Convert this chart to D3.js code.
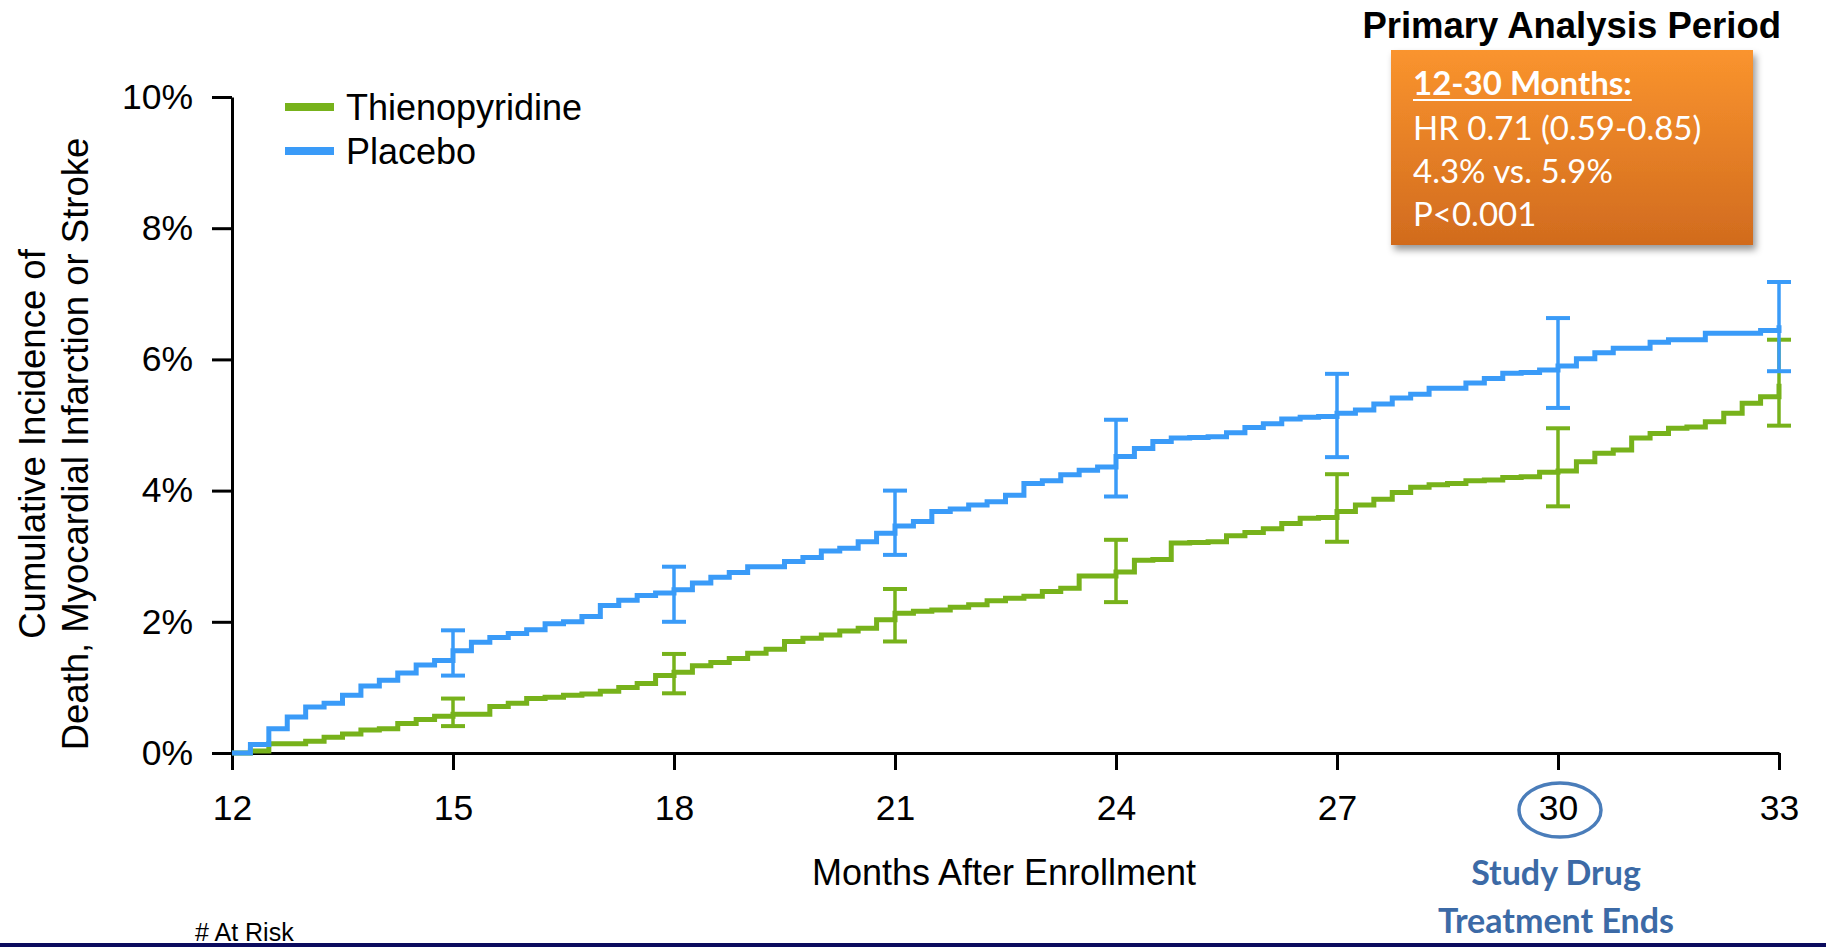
<!DOCTYPE html>
<html>
<head>
<meta charset="utf-8">
<script src="https://cdn.jsdelivr.net/npm/d3@7"></script>
<style>
  html, body { margin: 0; padding: 0; background: #ffffff; }
  svg { display: block; }
  text { font-family: "Liberation Sans", Arial, sans-serif; }
</style>
</head>
<body>
<svg id="chart" width="1826" height="947"></svg>
<script>
// Kaplan-Meier style cumulative incidence, months 12-33 after enrollment
const months = [12, 12.25, 12.5, 12.75, 13, 13.25, 13.5, 13.75, 14, 14.25, 14.5, 14.75,
  15, 15.25, 15.5, 15.75, 16, 16.25, 16.5, 16.75, 17, 17.25, 17.5, 17.75,
  18, 18.25, 18.5, 18.75, 19, 19.25, 19.5, 19.75, 20, 20.25, 20.5, 20.75,
  21, 21.25, 21.5, 21.75, 22, 22.25, 22.5, 22.75, 23, 23.25, 23.5, 23.75,
  24, 24.25, 24.5, 24.75, 25, 25.25, 25.5, 25.75, 26, 26.25, 26.5, 26.75,
  27, 27.25, 27.5, 27.75, 28, 28.25, 28.5, 28.75, 29, 29.25, 29.5, 29.75,
  30, 30.25, 30.5, 30.75, 31, 31.25, 31.5, 31.75, 32, 32.25, 32.5, 32.75, 33];

const placebo = [0, 0.13, 0.37, 0.55, 0.70, 0.76, 0.88, 1.02, 1.11, 1.22, 1.34, 1.41,
  1.56, 1.69, 1.76, 1.82, 1.88, 1.97, 2.00, 2.08, 2.25, 2.33, 2.40, 2.44,
  2.49, 2.59, 2.68, 2.75, 2.84, 2.84, 2.92, 2.98, 3.08, 3.12, 3.22, 3.35,
  3.46, 3.53, 3.68, 3.72, 3.78, 3.83, 3.93, 4.11, 4.15, 4.24, 4.31, 4.36,
  4.52, 4.64, 4.75, 4.80, 4.81, 4.82, 4.88, 4.96, 5.02, 5.09, 5.12, 5.13,
  5.18, 5.23, 5.32, 5.41, 5.47, 5.56, 5.56, 5.64, 5.71, 5.79, 5.80, 5.84,
  5.90, 6.01, 6.10, 6.17, 6.17, 6.26, 6.30, 6.30, 6.40, 6.40, 6.40, 6.44, 6.52];

const thienopyridine = [0, 0.03, 0.14, 0.14, 0.18, 0.24, 0.29, 0.35, 0.37, 0.45, 0.51, 0.56,
  0.59, 0.59, 0.71, 0.76, 0.83, 0.85, 0.88, 0.90, 0.94, 1.00, 1.06, 1.18,
  1.23, 1.33, 1.38, 1.44, 1.52, 1.58, 1.70, 1.75, 1.80, 1.86, 1.90, 2.03,
  2.13, 2.16, 2.18, 2.22, 2.26, 2.32, 2.36, 2.39, 2.46, 2.51, 2.70, 2.70,
  2.76, 2.94, 2.95, 3.20, 3.21, 3.22, 3.31, 3.36, 3.42, 3.50, 3.58, 3.59,
  3.68, 3.78, 3.87, 3.97, 4.05, 4.09, 4.11, 4.15, 4.16, 4.20, 4.21, 4.28,
  4.30, 4.44, 4.57, 4.62, 4.80, 4.87, 4.95, 4.97, 5.05, 5.18, 5.33, 5.43, 5.63];

// 95% confidence intervals at the labelled months
const ciMonths = [15, 18, 21, 24, 27, 30, 33];
const placeboLow  = [1.18, 2.00, 3.02, 3.91, 4.51, 5.26, 5.82];
const placeboHigh = [1.87, 2.84, 4.00, 5.08, 5.78, 6.63, 7.18];
const thienoLow   = [0.41, 0.91, 1.70, 2.30, 3.22, 3.76, 4.99];
const thienoHigh  = [0.83, 1.51, 2.50, 3.25, 4.25, 4.95, 6.30];

const xTicks = [12, 15, 18, 21, 24, 27, 30, 33];
const yTicks = [0, 2, 4, 6, 8, 10];

const seriesNames = ["Thienopyridine", "Placebo"];
const seriesColors = ["#77b21b", "#3a9bf8"];

const summaryLines = ["HR 0.71 (0.59-0.85)", "4.3% vs. 5.9%", "P<0.001"];

const svg = d3.select("#chart");

const x = d3.scaleLinear().domain([12, 33]).range([232, 1779]);
const y = d3.scaleLinear().domain([0, 10]).range([753, 97]);

// defs: gradient + shadow for the summary box
const defs = svg.append("defs");
const grad = defs.append("linearGradient").attr("id", "boxGrad")
  .attr("x1", 0).attr("y1", 0).attr("x2", 0).attr("y2", 1);
grad.append("stop").attr("offset", "0%").attr("stop-color", "#fa942e");
grad.append("stop").attr("offset", "100%").attr("stop-color", "#d16b1e");
const shadow = defs.append("filter").attr("id", "boxShadow")
  .attr("x", "-10%").attr("y", "-10%").attr("width", "125%").attr("height", "130%");
shadow.append("feDropShadow").attr("dx", 3).attr("dy", 5)
  .attr("stdDeviation", 3.5).attr("flood-color", "#000").attr("flood-opacity", 0.4);

// Axes
const axisFont = 35.5;
const yAxis = svg.append("g").attr("transform", `translate(${x(12)},0)`)
  .call(d3.axisLeft(y).tickValues(yTicks).tickFormat(d => d + "%")
    .tickSize(20).tickSizeOuter(0).tickPadding(19));
const xAxis = svg.append("g").attr("transform", `translate(0,${y(0)})`)
  .call(d3.axisBottom(x).tickValues(xTicks).tickFormat(d3.format("d"))
    .tickSize(17).tickSizeOuter(0).tickPadding(25));
[yAxis, xAxis].forEach(g => {
  g.selectAll("path.domain").attr("stroke", "#000").attr("stroke-width", 3);
  g.selectAll(".tick line").attr("stroke", "#000").attr("stroke-width", 3);
  g.selectAll(".tick text").attr("fill", "#000")
    .style("font-family", '"Liberation Sans", Arial, sans-serif')
    .style("font-size", axisFont + "px");
});

// Axis titles
svg.append("text").attr("x", 1004).attr("y", 885)
  .attr("text-anchor", "middle").style("font-size", "36px").attr("fill", "#000")
  .text("Months After Enrollment");
const yTitle = ["Cumulative Incidence of", "Death, Myocardial Infarction or Stroke"];
svg.selectAll("text.ytitle").data(yTitle).enter().append("text")
  .attr("class", "ytitle")
  .attr("transform", (d, i) => `translate(${45 + i * 43},444) rotate(-90)`)
  .attr("text-anchor", "middle").style("font-size", "36.5px").attr("fill", "#000")
  .text(d => d);

// Survival-style step curves
const seriesData = [thienopyridine, placebo];
const line = d3.line().curve(d3.curveStepAfter)
  .x((d, i) => x(months[i])).y(d => y(d));
seriesData.forEach((vals, k) => {
  svg.append("path").datum(vals)
    .attr("d", line)
    .attr("fill", "none")
    .attr("stroke", seriesColors[k])
    .attr("stroke-width", 5)
    .attr("stroke-linejoin", "miter");
});

// Error bars
const ciSets = [[thienoLow, thienoHigh], [placeboLow, placeboHigh]];
const capHalf = 12;
ciSets.forEach(([lo, hi], k) => {
  const g = svg.append("g").attr("stroke", seriesColors[k]).attr("fill", "none");
  ciMonths.forEach((m, i) => {
    g.append("line").attr("x1", x(m)).attr("x2", x(m))
      .attr("y1", y(lo[i])).attr("y2", y(hi[i])).attr("stroke-width", 3.5);
    [lo[i], hi[i]].forEach(v => {
      g.append("line").attr("x1", x(m) - capHalf).attr("x2", x(m) + capHalf)
        .attr("y1", y(v)).attr("y2", y(v)).attr("stroke-width", 4);
    });
  });
});

// Legend
const legend = svg.append("g");
seriesNames.forEach((name, i) => {
  const ly = 107 + i * 44;
  legend.append("line").attr("x1", 285).attr("x2", 334).attr("y1", ly).attr("y2", ly)
    .attr("stroke", seriesColors[i]).attr("stroke-width", 8);
  legend.append("text").attr("x", 346).attr("y", ly).attr("dy", "0.36em")
    .style("font-size", "36px").attr("fill", "#000").text(name);
});

// Primary analysis summary box
svg.append("text").attr("x", 1781).attr("y", 38).attr("text-anchor", "end")
  .style("font-size", "36.5px").style("font-weight", "bold").attr("fill", "#000")
  .text("Primary Analysis Period");
svg.append("rect").attr("x", 1391).attr("y", 50).attr("width", 362).attr("height", 195)
  .attr("fill", "url(#boxGrad)").attr("filter", "url(#boxShadow)");
const boxFont = 'Lato, "Open Sans", sans-serif';
const head = svg.append("text").attr("x", 1413).attr("y", 95)
  .style("font-family", boxFont).style("font-size", "33px").style("font-weight", "bold")
  .attr("fill", "#fff").text("12-30 Months:");
const hb = head.node().getBBox();
svg.append("line").attr("x1", hb.x).attr("x2", hb.x + hb.width)
  .attr("y1", 100).attr("y2", 100).attr("stroke", "#fff").attr("stroke-width", 2.2);
summaryLines.forEach((t, i) => {
  svg.append("text").attr("x", 1413).attr("y", 140 + i * 43)
    .style("font-family", boxFont).style("font-size", "33px")
    .attr("fill", "#fff").text(t);
});

// End-of-treatment marker around month 30
svg.append("ellipse").attr("cx", x(30) + 2).attr("cy", 810).attr("rx", 41).attr("ry", 27)
  .attr("fill", "none").attr("stroke", "#4a7dba").attr("stroke-width", 3.5);
["Study Drug", "Treatment Ends"].forEach((t, i) => {
  svg.append("text").attr("x", x(30) - 2).attr("y", 885 + i * 48)
    .attr("text-anchor", "middle")
    .style("font-family", boxFont).style("font-size", "34px").style("font-weight", "bold")
    .attr("fill", "#3c6aa6").text(t);
});

// At-risk caption (table continues below) and bottom rule
svg.append("text").attr("x", 195).attr("y", 941)
  .style("font-size", "25px").attr("fill", "#000").text("# At Risk");
svg.append("rect").attr("x", 0).attr("y", 943).attr("width", 1826).attr("height", 4)
  .attr("fill", "#0b0b5e");
</script>
</body>
</html>
